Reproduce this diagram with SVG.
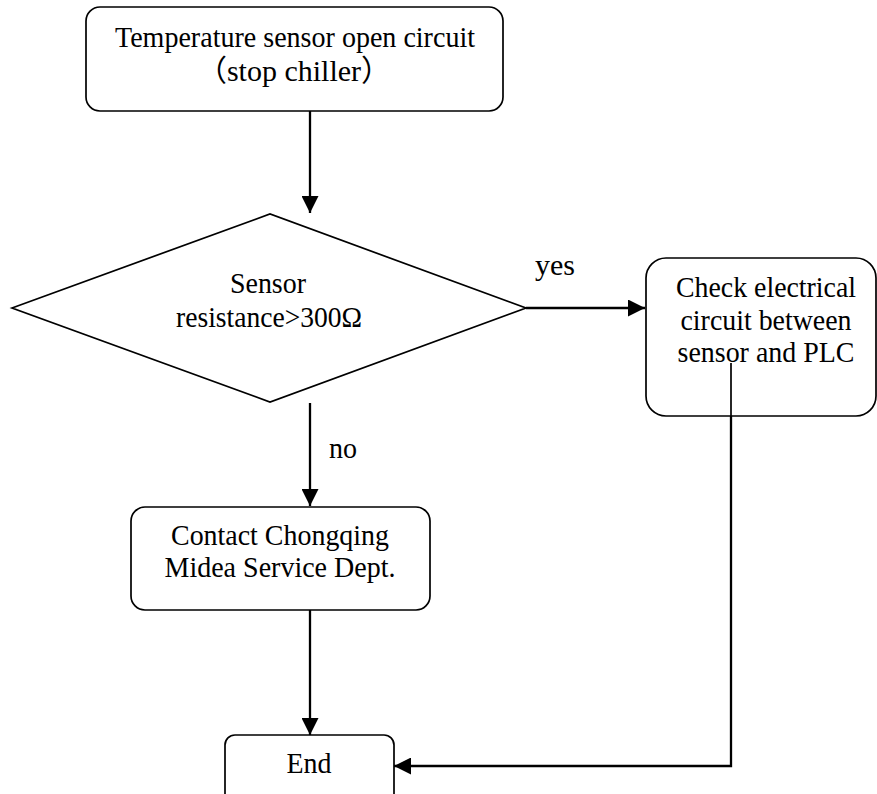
<svg xmlns="http://www.w3.org/2000/svg" width="877" height="794" viewBox="0 0 877 794">
<defs>
<style>
.box{fill:#fff;stroke:#000;stroke-width:1.7}
.t{font-family:"Liberation Serif","Noto Sans CJK SC",serif;font-size:30px;fill:#000;text-anchor:middle}
.c{fill:none;stroke:#000;stroke-width:2.3}
.thin{fill:none;stroke:#000;stroke-width:1.7}
</style>
<marker id="ah" markerUnits="userSpaceOnUse" markerWidth="17" markerHeight="17" viewBox="0 0 16 16" refX="16" refY="8" orient="auto">
<path d="M0,0 L16,8 L0,16 Z" fill="#000"/>
</marker>
</defs>
<rect width="877" height="794" fill="#fff"/>
<g id="connectors">
<line class="c" x1="310" y1="111" x2="310" y2="213" marker-end="url(#ah)"/>
<line class="c" x1="526" y1="308" x2="645" y2="308" marker-end="url(#ah)"/>
<line class="c" x1="310" y1="403" x2="310" y2="506" marker-end="url(#ah)"/>
<line class="c" x1="310" y1="610" x2="310" y2="735" marker-end="url(#ah)"/>
<polyline class="c" points="731,363 731,766 394,766" marker-end="url(#ah)"/>
<text class="t" x="555" y="275" textLength="40" lengthAdjust="spacingAndGlyphs">yes</text>
<text class="t" x="343" y="458" textLength="28" lengthAdjust="spacingAndGlyphs">no</text>
</g>
<g id="start">
<rect class="box" x="86" y="7" width="417" height="104" rx="14"/>
<text class="t" x="295" y="47" textLength="360" lengthAdjust="spacingAndGlyphs">Temperature sensor open circuit</text>
<text class="t" x="294" y="81">（stop chiller）</text>
</g>
<g id="decision">
<polygon class="box" points="12,308 270,214 526,308 270,402"/>
<text class="t" x="268" y="293" textLength="76" lengthAdjust="spacingAndGlyphs">Sensor</text>
<text class="t" x="269" y="327" textLength="186" lengthAdjust="spacingAndGlyphs">resistance&gt;300Ω</text>
</g>
<g id="check">
<rect class="box" x="646" y="258" width="230" height="158" rx="20"/>
<text class="t" x="766" y="297" textLength="180" lengthAdjust="spacingAndGlyphs">Check electrical</text>
<text class="t" x="766" y="330" textLength="171" lengthAdjust="spacingAndGlyphs">circuit between</text>
<text class="t" x="766" y="362" textLength="177" lengthAdjust="spacingAndGlyphs">sensor and PLC</text>
</g>
<line class="thin" x1="731" y1="363" x2="731" y2="420"/>
<g id="contact">
<rect class="box" x="131" y="507" width="299" height="103" rx="14"/>
<text class="t" x="280" y="545" textLength="218" lengthAdjust="spacingAndGlyphs">Contact Chongqing</text>
<text class="t" x="280" y="577" textLength="231" lengthAdjust="spacingAndGlyphs">Midea Service Dept.</text>
</g>
<g id="end">
<rect class="box" x="225" y="735" width="169" height="75" rx="10"/>
<text class="t" x="309" y="773" textLength="45" lengthAdjust="spacingAndGlyphs">End</text>
</g>
</svg>
